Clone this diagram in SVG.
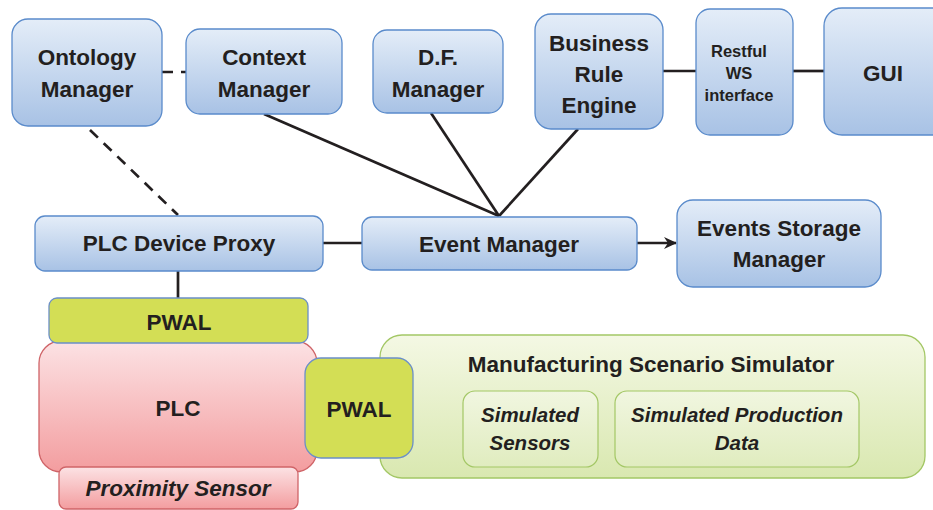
<svg xmlns="http://www.w3.org/2000/svg" width="933" height="510" viewBox="0 0 933 510">
<defs>
<linearGradient id="gBlue" x1="0" y1="0" x2="0" y2="1"><stop offset="0" stop-color="#e4edf8"/><stop offset="1" stop-color="#a8c2e5"/></linearGradient>
<linearGradient id="gPink" x1="0" y1="0" x2="0" y2="1"><stop offset="0" stop-color="#fce2e4"/><stop offset="1" stop-color="#f39d9f"/></linearGradient>
<linearGradient id="gGreen" x1="0" y1="0" x2="0" y2="1"><stop offset="0" stop-color="#f4f8e4"/><stop offset="1" stop-color="#d9e8b0"/></linearGradient>
<linearGradient id="gGreenIn" x1="0" y1="0" x2="0" y2="1"><stop offset="0" stop-color="#f1f6e0"/><stop offset="1" stop-color="#e0ecbf"/></linearGradient>
<marker id="arr" markerWidth="13" markerHeight="12" refX="12" refY="6" orient="auto" markerUnits="userSpaceOnUse"><path d="M0,0 L13,6 L0,12 L4,6 Z" fill="#231f20"/></marker>
</defs>
<style>
.b{fill:url(#gBlue);stroke:#5a8bcb;stroke-width:1.3}
.pw{fill:#d3de55;stroke:#6b8fc8;stroke-width:1.3}
.pk{fill:url(#gPink);stroke:#cf6468;stroke-width:1.3}
.gr{fill:url(#gGreen);stroke:#a3c765;stroke-width:1.3}
.gi{fill:url(#gGreenIn);stroke:#a3c765;stroke-width:1.2}
text{font-family:"Liberation Sans",Arial,sans-serif;font-weight:bold;fill:#231f20;text-anchor:middle}
.t{font-size:22.5px}
.s{font-size:16.5px}
.i{font-style:italic;font-size:20.5px}
.ln{stroke:#231f20;stroke-width:2.7;fill:none}
.d{stroke-dasharray:11,8}
</style>
<g id="connectors">
<line class="ln d" x1="162" y1="72" x2="186" y2="72"/>
<line class="ln d" x1="90" y1="130" x2="178" y2="215"/>
<line class="ln" x1="264" y1="114" x2="499" y2="216"/>
<line class="ln" x1="431" y1="113" x2="499" y2="216"/>
<line class="ln" x1="578" y1="129" x2="499" y2="216"/>
<line class="ln" x1="663" y1="71" x2="696" y2="71"/>
<line class="ln" x1="793" y1="71" x2="824" y2="71"/>
<line class="ln" x1="323" y1="243" x2="362" y2="243"/>
<line class="ln" x1="637" y1="243" x2="676" y2="243" marker-end="url(#arr)"/>
<line class="ln" x1="178" y1="271" x2="178" y2="298"/>
</g>
<g id="ontology-manager"><rect class="b" x="12" y="19" width="150" height="107" rx="16"/><text class="t" x="87" y="65">Ontology</text><text class="t" x="87" y="97">Manager</text></g>
<g id="context-manager"><rect class="b" x="186" y="29" width="156" height="85" rx="14"/><text class="t" x="264" y="65">Context</text><text class="t" x="264" y="97">Manager</text></g>
<g id="df-manager"><rect class="b" x="373" y="30" width="130" height="83" rx="14"/><text class="t" x="438" y="65">D.F.</text><text class="t" x="438" y="97">Manager</text></g>
<g id="business-rule-engine"><rect class="b" x="535" y="14" width="128" height="115" rx="16"/><text class="t" x="599" y="51">Business</text><text class="t" x="599" y="82">Rule</text><text class="t" x="599" y="113">Engine</text></g>
<g id="restful-ws"><rect class="b" x="696" y="9" width="97" height="126" rx="14"/><text class="s" x="739" y="57">Restful</text><text class="s" x="739" y="79">WS</text><text class="s" x="739" y="101">interface</text></g>
<g id="gui"><rect class="b" x="824" y="8" width="130" height="127" rx="18"/><text class="t" x="883" y="81">GUI</text></g>
<g id="plc-device-proxy"><rect class="b" x="35" y="216" width="288" height="55" rx="10"/><text class="t" x="179" y="251">PLC Device Proxy</text></g>
<g id="event-manager"><rect class="b" x="362" y="217" width="275" height="53" rx="10"/><text class="t" x="499" y="252">Event Manager</text></g>
<g id="events-storage-manager"><rect class="b" x="677" y="200" width="204" height="87" rx="16"/><text class="t" x="779" y="236">Events Storage</text><text class="t" x="779" y="267">Manager</text></g>
<g id="manufacturing-scenario-simulator"><rect class="gr" x="380" y="335" width="545" height="143" rx="22"/><text class="t" x="651" y="372">Manufacturing Scenario Simulator</text>
<g id="simulated-sensors"><rect class="gi" x="463" y="391" width="135" height="76" rx="12"/><text class="i" x="530" y="422">Simulated</text><text class="i" x="530" y="450">Sensors</text></g>
<g id="simulated-production-data"><rect class="gi" x="615" y="391" width="244" height="76" rx="12"/><text class="i" x="737" y="422">Simulated Production</text><text class="i" x="737" y="450">Data</text></g>
</g>
<g id="plc"><rect class="pk" x="39" y="341" width="278" height="131" rx="22"/><text class="t" x="178" y="416">PLC</text></g>
<g id="proximity-sensor"><rect class="pk" x="59" y="467" width="239" height="42" rx="7"/><text class="t" x="178" y="496" font-style="italic">Proximity Sensor</text></g>
<g id="pwal-top"><rect class="pw" x="49" y="298" width="259" height="45" rx="8"/><text class="t" x="179" y="330">PWAL</text></g>
<g id="pwal-right"><rect class="pw" x="305" y="358" width="108" height="100" rx="16"/><text class="t" x="359" y="417">PWAL</text></g>
</svg>
